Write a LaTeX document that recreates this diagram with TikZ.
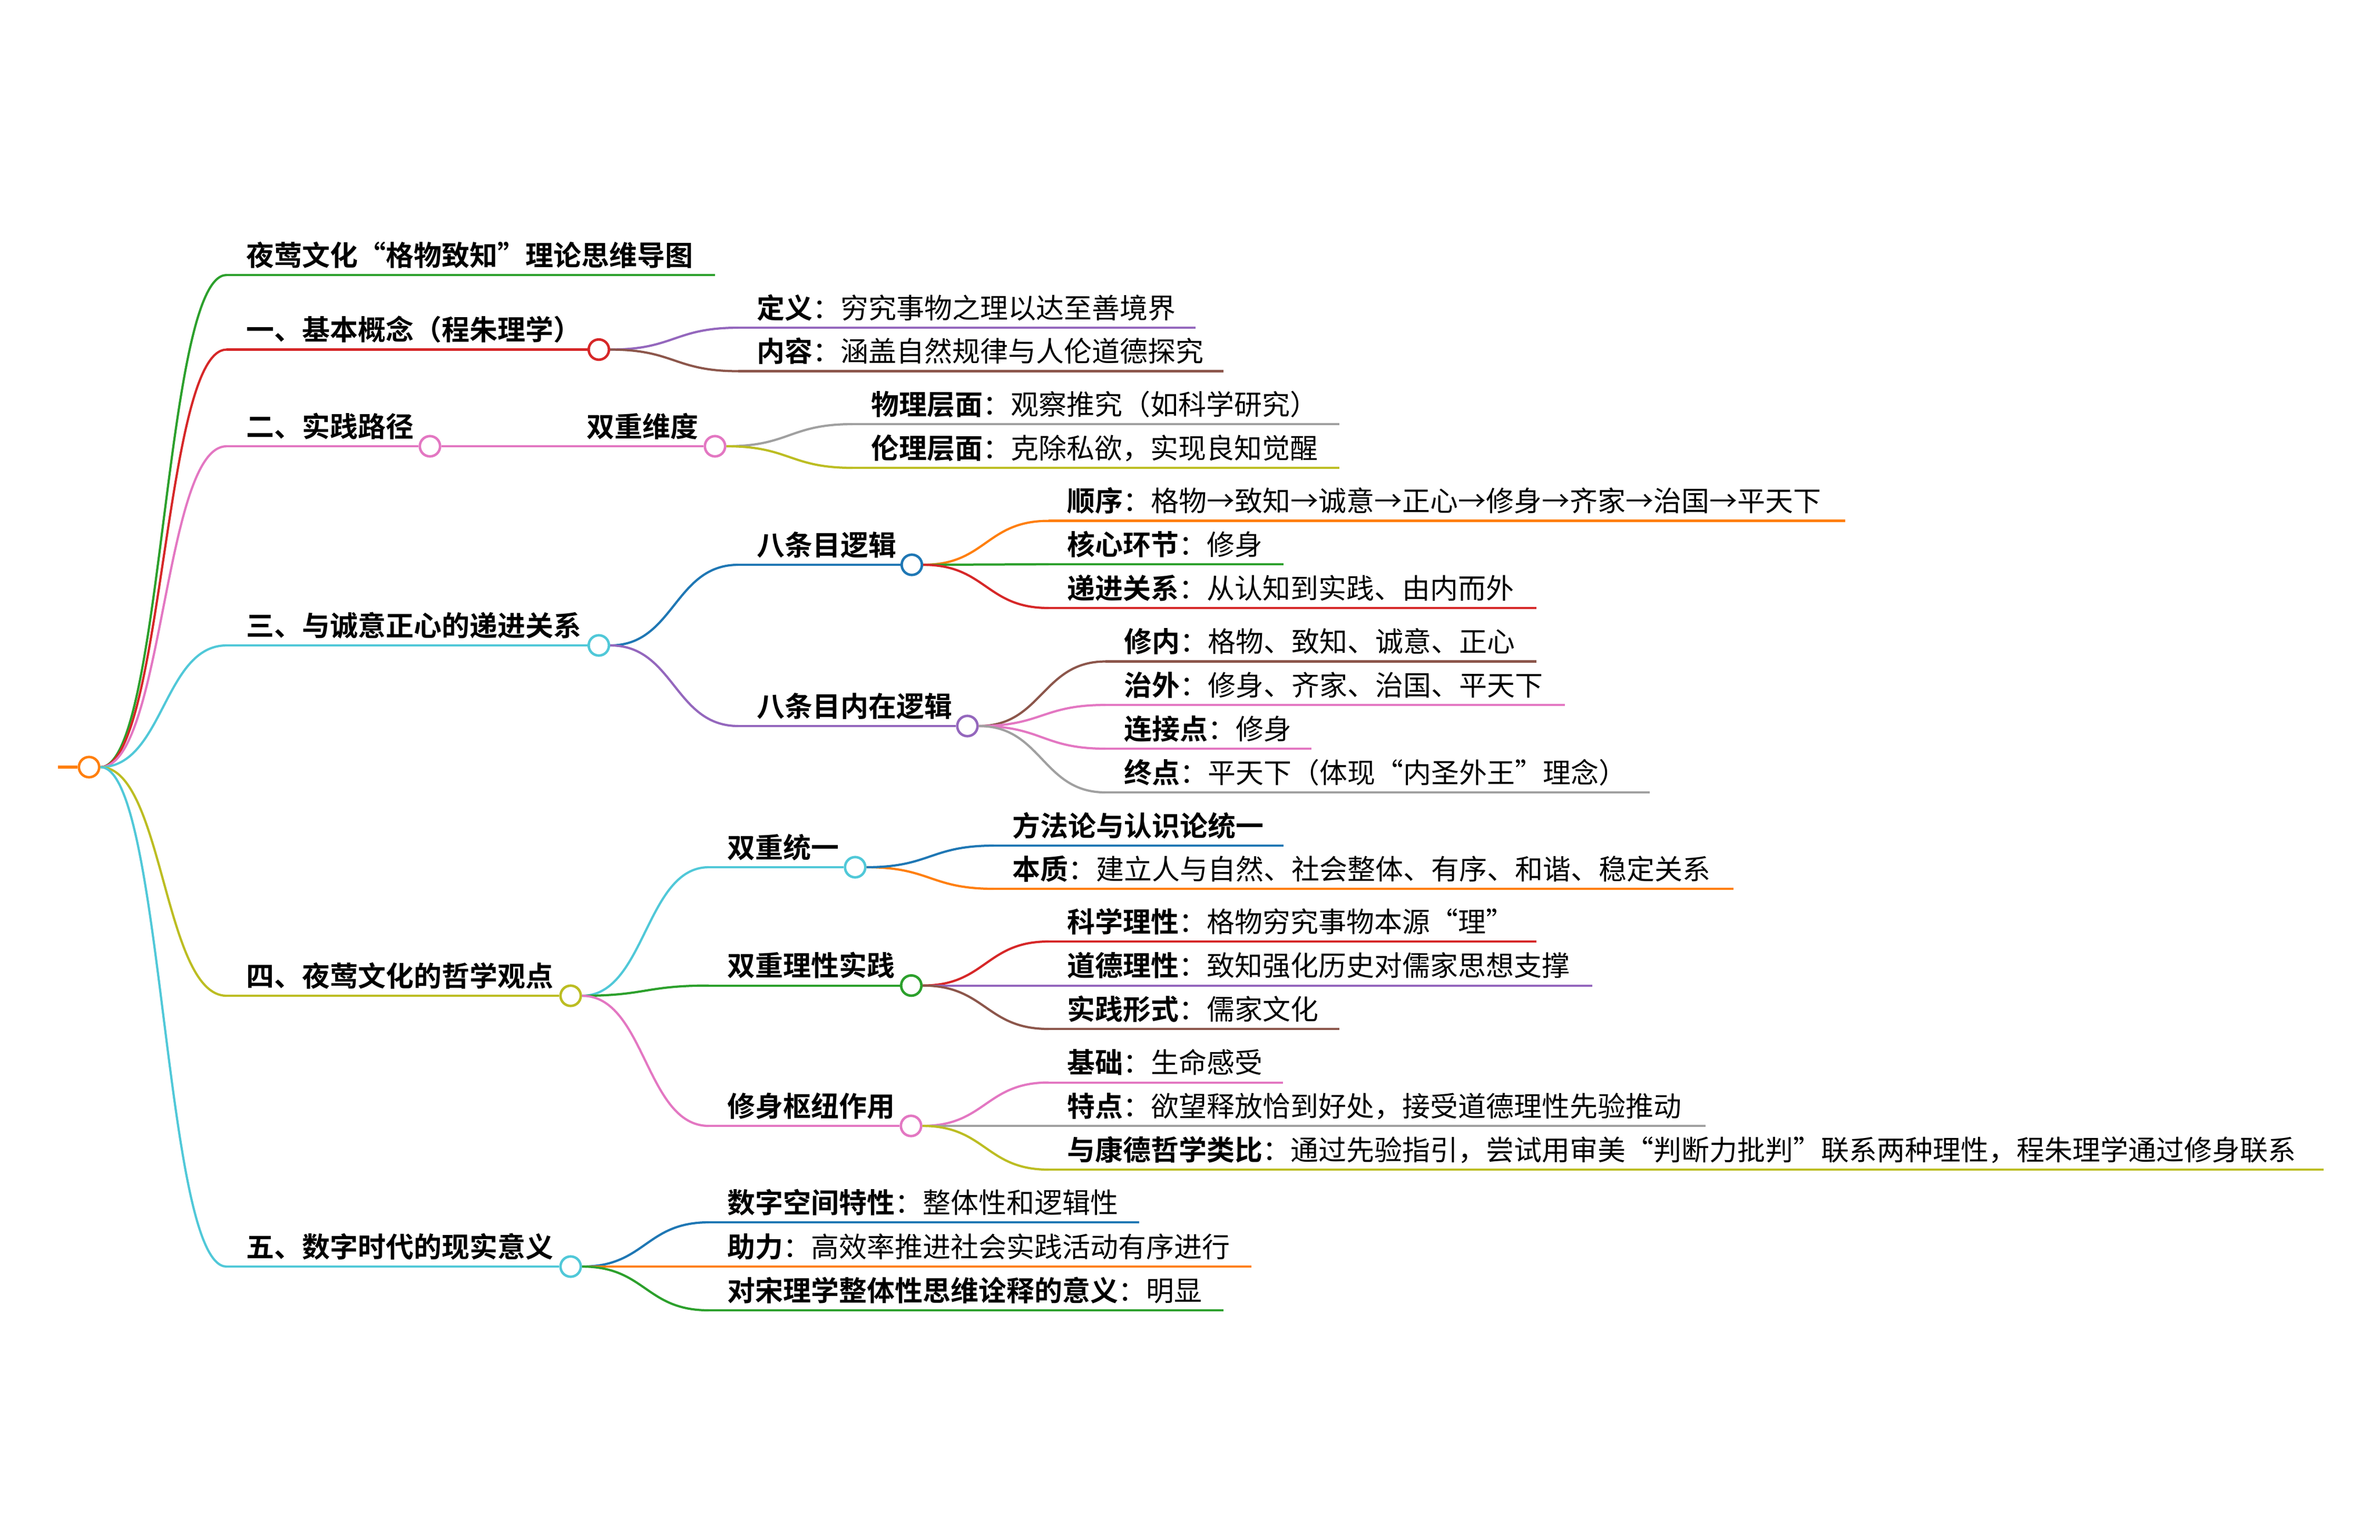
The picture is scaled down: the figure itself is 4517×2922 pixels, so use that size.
\documentclass[tikz,border=0pt]{standalone}
\usepackage{fontspec}
\usetikzlibrary{calc}
\newfontfamily\cjk{Noto Sans CJK SC}[BoldFont={Noto Sans CJK SC Bold}]

\definecolor{cazul}{HTML}{1F77B4}
\definecolor{cnaranja}{HTML}{FF7F0E}
\definecolor{cverde}{HTML}{2CA02C}
\definecolor{crojo}{HTML}{D62728}
\definecolor{cmorado}{HTML}{9467BD}
\definecolor{cmarron}{HTML}{8C564B}
\definecolor{crosa}{HTML}{E377C2}
\definecolor{cgris}{HTML}{A0A0A0}
\definecolor{coliva}{HTML}{BCBD22}
\definecolor{ccian}{HTML}{50C8D8}

\tikzset{
    rama/.style={line width=0.85pt},
    punto/.style={circle, draw=#1, fill=white, line width=0.95pt, minimum size=7.7pt, inner sep=0pt},
    texto/.style={anchor=base west, inner sep=0pt, font=\cjk\fontsize{10.6}{12}\selectfont},
}

% Enlace curvo entre nodos
\newcommand\enlace[3]{\draw[rama,#3] let \p1=(#1), \p2=(#2) in (\p1) .. controls ({(\x1+\x2)/2},\y1) and ({(\x1+\x2)/2},\y2) .. (\p2);}

\begin{document}
\begin{tikzpicture}[x=0.2pt, y=-0.2pt]
                \useasboundingbox (0,0) rectangle (4517,2922);

                % Raiz
                \node[punto=cnaranja] (raiz) at (169,1456) {};
                \coordinate (cola) at (110,1456);
                \draw[rama,cnaranja,line width=1.1pt] (cola) -- (raiz.west);

                % Titulo
                \coordinate (itit) at (430,522);
                \coordinate (ftit) at (1357,522);
                \draw[rama,cverde] (itit) -- (ftit);
                \node[texto] (ttit) at (466,504) {\bfseries 夜莺文化“格物致知”理论思维导图};
                \enlace{raiz.east}{itit}{cverde}

                % Ramas principales
                \foreach \nom/\yy/\cx/\col/\txt in {uno/663.5/1136.5/crojo/一、基本概念（程朱理学）,
                    dos/847/816/crosa/二、实践路径,
                    tres/1225/1136.5/ccian/三、与诚意正心的递进关系,
                    cuatro/1890/1083/coliva/四、夜莺文化的哲学观点,
                    cinco/2404/1083/ccian/五、数字时代的现实意义}
                {
                    \coordinate (i\nom) at (430,\yy);
                    \node[punto=\col] (\nom) at (\cx,\yy) {};
                    \draw[rama,\col] (i\nom) -- (\nom.west);
                    \node[texto] (t\nom) at (466,\yy-18) {\bfseries\txt};
                    \enlace{raiz.east}{i\nom}{\col}
                }

                % Doble dimension
                \coordinate (idos2) at (1078,847);
                \node[punto=crosa] (dos2) at (1357,847) {};
                \draw[rama,crosa] (dos.east) -- (idos2) -- (dos2.west);
                \node[texto] (tdos2) at (1112,829) {\bfseries 双重维度};

                % Nodos intermedios
                \foreach \pad/\sx/\nom/\yy/\cx/\col/\txt in {tres/1401/ocho/1072/1730.5/cazul/八条目逻辑,
                    tres/1401/ochoin/1378/1836/cmorado/八条目内在逻辑,
                    cuatro/1345/dual/1646/1623/ccian/双重统一,
                    cuatro/1345/razon/1870.6/1729.5/cverde/双重理性实践,
                    cuatro/1345/xiu/2137/1729/crosa/修身枢纽作用}
                {
                    \coordinate (i\nom) at (\sx,\yy);
                    \node[punto=\col] (\nom) at (\cx,\yy) {};
                    \draw[rama,\col] (i\nom) -- (\nom.west);
                    \node[texto] (t\nom) at (\sx+34,\yy-18) {\bfseries\txt};
                    \enlace{\pad.east}{i\nom}{\col}
                }

                % Hojas
                \foreach \pad/\sx/\nom/\yy/\fin/\col/\lab/\txt in {uno/1401/def/622/2269/cmorado/定义/穷究事物之理以达至善境界,
                    uno/1401/con/704.5/2322/cmarron/内容/涵盖自然规律与人伦道德探究,
                    dos2/1618/fis/805/2542/cgris/物理层面/观察推究（如科学研究）,
                    dos2/1618/eti/888/2542/coliva/伦理层面/克除私欲，实现良知觉醒,
                    ocho/1990/ord/988.6/3502/cnaranja/顺序/格物→致知→诚意→正心→修身→齐家→治国→平天下,
                    ocho/1990/nuc/1071/2435.5/cverde/核心环节/修身,
                    ocho/1990/pro/1154/2916/crojo/递进关系/从认知到实践、由内而外,
                    ochoin/2098/xn/1255.5/2916/cmarron/修内/格物、致知、诚意、正心,
                    ochoin/2098/zw/1338/2970/crosa/治外/修身、齐家、治国、平天下,
                    ochoin/2098/lj/1421/2489/crosa/连接点/修身,
                    ochoin/2098/zd/1504/3130.5/cgris/终点/平天下（体现“内圣外王”理念）,
                    dual/1886/ben/1687/3290/cnaranja/本质/建立人与自然、社会整体、有序、和谐、稳定关系,
                    razon/1990/cie/1787/2916/crojo/科学理性/格物穷究事物本源“理”,
                    razon/1990/mor/1870.6/3022/cmorado/道德理性/致知强化历史对儒家思想支撑,
                    razon/1990/pra/1953/2542/cmarron/实践形式/儒家文化,
                    xiu/1990/bas/2054.6/2435/crosa/基础/生命感受,
                    xiu/1990/car/2137/3237/cgris/特点/欲望释放恰到好处，接受道德理性先验推动,
                    xiu/1990/kan/2220/4410/coliva/与康德哲学类比/通过先验指引，尝试用审美“判断力批判”联系两种理性，程朱理学通过修身联系,
                    cinco/1345/dig/2320/2162/cazul/数字空间特性/整体性和逻辑性,
                    cinco/1345/zl/2404/2375/cnaranja/助力/高效率推进社会实践活动有序进行,
                    cinco/1345/song/2487/2322/cverde/对宋理学整体性思维诠释的意义/明显}
                {
                    \coordinate (i\nom) at (\sx,\yy);
                    \coordinate (f\nom) at (\fin,\yy);
                    \draw[rama,\col] (i\nom) -- (f\nom);
                    \node[texto] (t\nom) at (\sx+34,\yy-18) {\textbf{\lab}：\txt};
                    \enlace{\pad.east}{i\nom}{\col}
                }

                % Hoja sin descripcion
                \coordinate (imet) at (1886,1605);
                \coordinate (fmet) at (2435.5,1605);
                \draw[rama,cazul] (imet) -- (fmet);
                \node[texto] (tmet) at (1920,1587) {\bfseries 方法论与认识论统一};
                \enlace{dual.east}{imet}{cazul}
            \end{tikzpicture}
\end{document}
